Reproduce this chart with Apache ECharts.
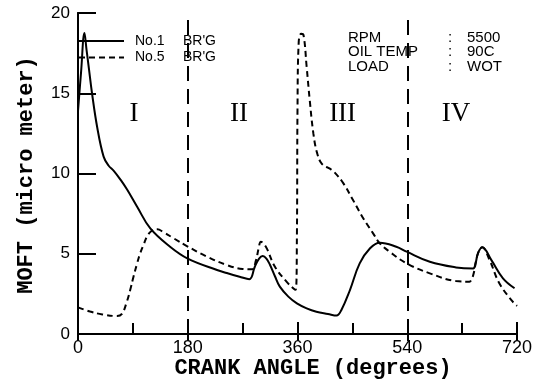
<!DOCTYPE html>
<html>
<head>
<meta charset="utf-8">
<script src="https://cdn.jsdelivr.net/npm/echarts@6/dist/echarts.min.js"></script>
<style>
  html, body { margin: 0; padding: 0; background: #fff; }
  #chart { width: 537px; height: 391px; }
</style>
</head>
<body>
<div id="chart"></div>
<script>
// crank angle (deg) / film thickness (micro meter)
const n1Angle = [0, 5, 10.6, 14, 17.7, 23, 31.4, 42, 50, 59, 70, 80.5, 97, 118.6, 151, 180, 228, 244, 265, 281, 290, 297, 303, 309, 315, 323, 331, 345, 359, 375, 391, 410, 424, 432, 446, 462, 479, 495, 522, 539, 577, 620, 648, 652, 656, 663, 678, 697, 716];
const n1Value = [13.9, 16.3, 18.75, 17.7, 16.6, 15.0, 12.9, 11.05, 10.5, 10.15, 9.6, 9.0, 7.93, 6.58, 5.44, 4.7, 3.99, 3.8, 3.57, 3.41, 4.19, 4.7, 4.86, 4.7, 4.3, 3.6, 2.95, 2.33, 1.91, 1.6, 1.39, 1.25, 1.15, 1.5, 2.74, 4.4, 5.34, 5.69, 5.44, 5.13, 4.5, 4.15, 4.08, 4.4, 5.03, 5.4, 4.6, 3.47, 2.85];

const n5Angle = [0, 20, 40, 64, 72, 80, 86, 91, 97, 102, 108, 113, 120, 130, 140, 157, 180, 210, 244, 270, 285, 292, 296, 300, 305, 310, 323, 342, 353, 357, 359, 360, 362, 366, 370, 375, 380, 386, 392, 400, 413, 420, 435, 451, 468, 484, 495, 511, 539, 577, 620, 642, 646, 649, 656, 663, 675, 691, 713, 720];
const n5Value = [1.66, 1.4, 1.22, 1.12, 1.25, 2.0, 2.8, 3.57, 4.4, 5.03, 5.6, 6.06, 6.4, 6.52, 6.35, 5.96, 5.45, 4.85, 4.3, 4.05, 4.03, 4.6, 5.3, 5.75, 5.6, 5.3, 4.19, 3.26, 2.85, 2.75, 6, 14, 18.2, 18.7, 18.6, 16.65, 14.6, 12.5, 11.3, 10.6, 10.3, 10.1, 9.4, 8.35, 7.2, 6.27, 5.65, 5.13, 4.4, 3.78, 3.3, 3.26, 3.45, 3.78, 5.03, 5.4, 4.61, 3.16, 2.01, 1.75];

const seriesNames = ["No.1 BR'G", "No.5 BR'G"];
const dividerAngles = [180, 540];
const regionLabels = ["I", "II", "III", "IV"];
const regionAngles = [92, 264, 434, 620];
const regionLevel = 13.7;
const condNames = ["RPM", "OIL TEMP", "LOAD"];
const condValues = ["5500", "90C", "WOT"];

const chart = echarts.init(document.getElementById("chart"));

const toPairs = (xs, ys) => xs.map((x, i) => [x, ys[i]]);

const labelFont = "Liberation Sans, Arial, sans-serif";
const titleFont = "bold 22px 'Liberation Mono', 'DejaVu Sans Mono', monospace";

// condition block (top right)
const condGraphics = [];
condNames.forEach((name, i) => {
  const y = 37.5 + i * 14.6;
  condGraphics.push(
    { type: "text", x: 348, y: y, style: { text: name, font: "15px " + labelFont, fill: "#000", textAlign: "left", textVerticalAlign: "middle", align: "left", verticalAlign: "middle" } },
    { type: "text", x: 450, y: y, style: { text: ":", font: "15px " + labelFont, fill: "#000", textAlign: "center", textVerticalAlign: "middle", align: "center", verticalAlign: "middle" } },
    { type: "text", x: 467, y: y, style: { text: condValues[i], font: "15px " + labelFont, fill: "#000", textAlign: "left", textVerticalAlign: "middle", align: "left", verticalAlign: "middle" } }
  );
});

const option = {
  backgroundColor: "#fff",
  animation: false,
  grid: { left: 78, right: 20, top: 13, bottom: 57 },
  legend: {
    orient: "vertical",
    left: 78,
    top: 34,
    padding: 0,
    itemWidth: 45,
    itemHeight: 14,
    itemGap: 2.6,
    itemStyle: { opacity: 0 },
    data: seriesNames,
    formatter: (name) => {
      const parts = name.split(" ");
      return "{a|" + parts[0] + "}{b|" + parts[1] + "}";
    },
    textStyle: {
      color: "#000",
      fontSize: 14,
      fontFamily: labelFont,
      padding: [0, 0, 0, 6],
      rich: {
        a: { width: 48, fontSize: 14, fontFamily: labelFont, color: "#000" },
        b: { fontSize: 14, fontFamily: labelFont, color: "#000" },
      },
    },
  },
  xAxis: [
    {
      type: "value",
      min: 0,
      max: 720,
      interval: 180,
      axisLine: { lineStyle: { color: "#000", width: 2 } },
      axisTick: { inside: true, length: 12, lineStyle: { color: "#000", width: 2 } },
      minorTick: { show: true, splitNumber: 2, length: 11, lineStyle: { color: "#000", width: 2 } },
      splitLine: { show: false },
      axisLabel: { color: "#000", fontSize: 18, fontFamily: labelFont, margin: 5 },
    },
    {
      type: "value",
      position: "top",
      min: 0,
      max: 720,
      interval: 180,
      axisLine: { lineStyle: { color: "#000", width: 2 } },
      axisTick: { inside: true, length: 7, lineStyle: { color: "#000", width: 2 } },
      axisLabel: { show: false },
      splitLine: { show: false },
    },
  ],
  yAxis: [
    {
      type: "value",
      min: 0,
      max: 20,
      interval: 5,
      axisLine: { show: true, lineStyle: { color: "#000", width: 2 } },
      axisTick: { show: true, inside: true, length: 18, lineStyle: { color: "#000", width: 2 } },
      splitLine: { show: false },
      axisLabel: { color: "#000", fontSize: 17, fontFamily: labelFont, margin: 8 },
    },
    {
      type: "value",
      position: "right",
      min: 0,
      max: 20,
      interval: 5,
      axisLine: { show: true, lineStyle: { color: "#000", width: 2 } },
      axisTick: { show: false },
      axisLabel: { show: false },
      splitLine: { show: false },
    },
  ],
  graphic: [
    {
      type: "text",
      x: 313,
      y: 368,
      style: { text: "CRANK ANGLE (degrees)", font: titleFont, fill: "#000", textAlign: "center", textVerticalAlign: "middle", align: "center", verticalAlign: "middle" },
    },
    {
      type: "text",
      x: 26,
      y: 175,
      rotation: Math.PI / 2,
      style: { text: "MOFT (micro meter)", font: titleFont, fill: "#000", textAlign: "center", textVerticalAlign: "middle", align: "center", verticalAlign: "middle" },
    },
  ].concat(condGraphics),
  series: [
    {
      name: seriesNames[0],
      type: "line",
      data: toPairs(n1Angle, n1Value),
      smooth: 0.4,
      symbol: "none",
      lineStyle: { color: "#000", width: 2 },
      itemStyle: { color: "#000" },
      markLine: {
        silent: true,
        symbol: ["none", "none"],
        label: { show: false },
        lineStyle: { color: "#000", width: 2, type: [15, 8] },
        data: dividerAngles.map((a) => ({ xAxis: a })),
      },
      markPoint: {
        silent: true,
        symbol: "circle",
        symbolSize: 0,
        label: {
          show: true,
          position: "inside",
          color: "#000",
          fontSize: 27,
          fontFamily: "Liberation Serif, Times New Roman, serif",
          formatter: (p) => p.name,
        },
        data: regionLabels.map((t, i) => ({ name: t, coord: [regionAngles[i], regionLevel] })),
      },
    },
    {
      name: seriesNames[1],
      type: "line",
      data: toPairs(n5Angle, n5Value),
      smooth: 0.4,
      symbol: "none",
      lineStyle: { color: "#000", width: 2, type: [6, 4] },
      itemStyle: { color: "#000" },
    },
  ],
};

chart.setOption(option);
window.addEventListener("resize", () => chart.resize());
</script>
</body>
</html>
